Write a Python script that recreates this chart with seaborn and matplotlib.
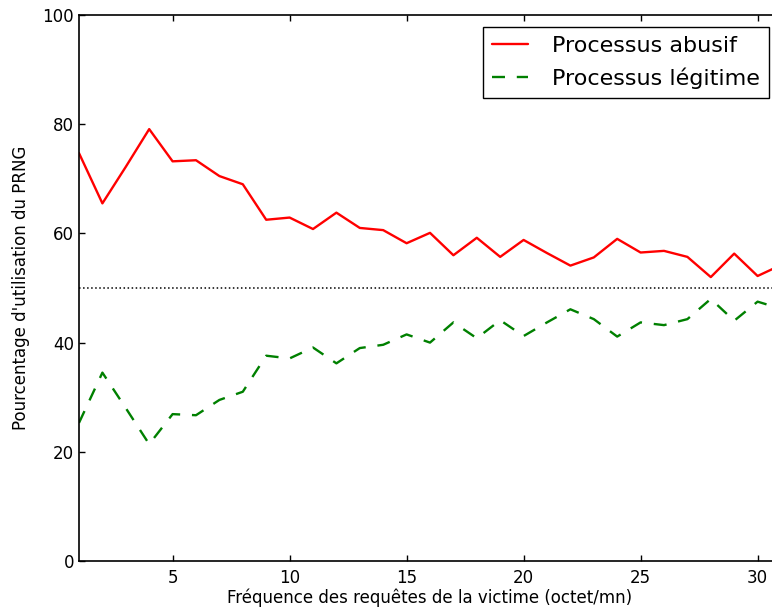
import matplotlib
matplotlib.use("Agg")
import matplotlib.pyplot as plt
import pandas as pd
import seaborn as sns

frequences = list(range(1, 32))
abusif = [74.7, 65.5, 72.2, 79.1, 73.2, 73.4, 70.5, 69.0, 62.5, 62.9,
          60.8, 63.8, 61.0, 60.6, 58.2, 60.1, 56.0, 59.2, 55.7, 58.8,
          56.4, 54.1, 55.6, 59.0, 56.5, 56.8, 55.7, 52.0, 56.3, 52.2, 54.2]
legitime = [25.3, 34.5, 28.0, 21.4, 26.9, 26.7, 29.5, 31.0, 37.6, 37.1,
            39.1, 36.2, 39.0, 39.6, 41.5, 40.0, 43.7, 40.8, 44.1, 41.2,
            43.7, 46.1, 44.3, 41.1, 43.7, 43.2, 44.3, 48.0, 44.0, 47.5, 46.2]
series = ["Processus abusif", "Processus légitime"]
seuil = 50

df = pd.DataFrame({
    "freq": frequences * 2,
    "pct": abusif + legitime,
    "processus": [series[0]] * len(abusif) + [series[1]] * len(legitime),
})

sns.set_style("ticks")
plt.rcParams["font.family"] = ["DejaVu Sans"]
plt.rcParams["text.color"] = "black"
plt.rcParams["axes.labelcolor"] = "black"

fig = plt.figure(figsize=(7.72, 6.09), dpi=100)
# axes run past the right edge: the reference is cropped there
ax = fig.add_axes([79 / 772, 48 / 609, 702 / 772, 546 / 609])

sns.lineplot(data=df, x="freq", y="pct", hue="processus", style="processus",
             palette={series[0]: "red", series[1]: "green"},
             dashes={series[0]: "", series[1]: (5.5, 5)},
             linewidth=1.7, ax=ax)
ax.axhline(seuil, color="black", linestyle=":", linewidth=1.1)

ax.set_xlim(1, 31)
ax.set_ylim(0, 100)
ax.set_xticks([5, 10, 15, 20, 25, 30])
ax.set_yticks([0, 20, 40, 60, 80, 100])
ax.tick_params(direction="in", top=True, right=True, labelsize=12,
               length=4.5, width=1, colors="black")
ax.tick_params(axis="x", pad=6)
ax.tick_params(axis="y", pad=3.5)
for s in ax.spines.values():
    s.set_color("black")
    s.set_linewidth(1.2)
ax.set_xlabel("Fréquence des requêtes de la victime (octet/mn)", fontsize=12,
              labelpad=1, color="black")
ax.set_ylabel("Pourcentage d'utilisation du PRNG", fontsize=12, labelpad=9,
              color="black")

leg = ax.legend(loc="upper right", fontsize=16, fancybox=False,
                edgecolor="black", framealpha=1, handlelength=1.6,
                handletextpad=1.1, labelspacing=0.5, borderaxespad=0.55)
leg.get_frame().set_linewidth(1.0)
for t in leg.get_texts():
    t.set_color("black")

fig.savefig("out.png", dpi=100)
